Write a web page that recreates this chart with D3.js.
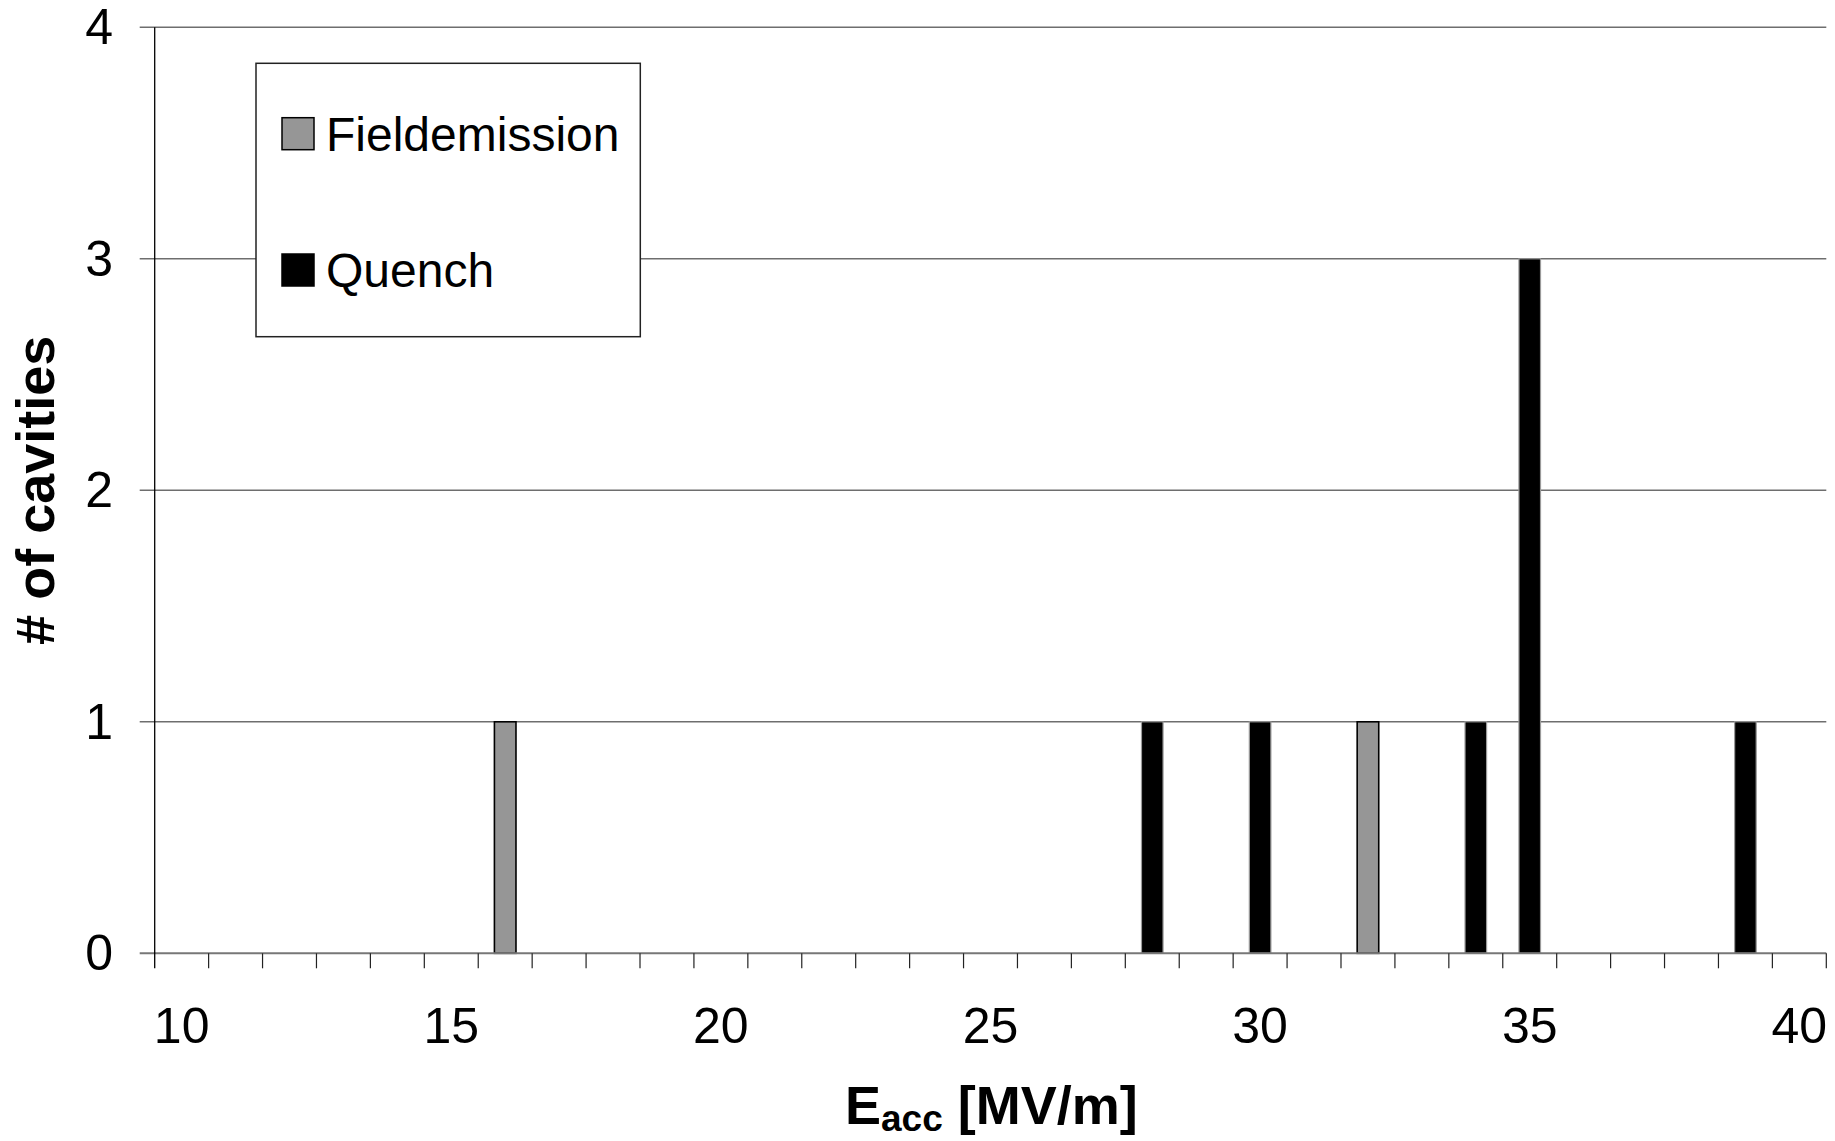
<!DOCTYPE html>
<html>
<head>
<meta charset="utf-8">
<script src="https://cdn.jsdelivr.net/npm/d3@7"></script>
<style>
  html, body { margin: 0; padding: 0; background: #fff; }
  svg { display: block; }
  text { font-family: "Liberation Sans", Arial, Helvetica, sans-serif; fill: #000; }
</style>
</head>
<body>
<svg id="chart" width="1835" height="1141"></svg>
<script>
// Accelerating field bins (MV/m), one column per integer value
const categories = d3.range(10, 41);
// Cavities limited by field emission, per field bin
const fieldEmission = [
  {e: 16, n: 1},
  {e: 32, n: 1}
];
// Cavities limited by quench, per field bin
const quench = [
  {e: 28, n: 1},
  {e: 30, n: 1},
  {e: 34, n: 1},
  {e: 35, n: 3},
  {e: 39, n: 1}
];
const xTickLabels = [10, 15, 20, 25, 30, 35, 40];
const yTickValues = [0, 1, 2, 3, 4];
const seriesNames = ["Fieldemission", "Quench"];

const svg = d3.select("#chart");
const plotLeft = 154.7, plotRight = 1826.3, plotTop = 27.3, plotBottom = 953.3;

const x = d3.scaleBand().domain(categories).range([plotLeft, plotRight]).padding(0);
const y = d3.scaleLinear().domain([0, 4]).range([plotBottom, plotTop]);
const barW = x.bandwidth() * 0.4;
const tickLen = 15;

// horizontal gridlines, extended left to form the y tick marks
svg.append("g").selectAll("line")
  .data(yTickValues.filter(v => v > 0))
  .join("line")
  .attr("x1", plotLeft - tickLen).attr("x2", plotRight)
  .attr("y1", d => y(d)).attr("y2", d => y(d))
  .attr("stroke", "#6e6e6e").attr("stroke-width", 1.6);

// y tick labels
svg.append("g").selectAll("text")
  .data(yTickValues)
  .join("text")
  .attr("x", 113).attr("y", d => y(d))
  .attr("text-anchor", "end").attr("dominant-baseline", "central")
  .attr("font-size", 50)
  .text(d => d);

// bars, stacked from the category baseline
const drawBars = (data, fill, stroke, sw) => {
  svg.append("g").selectAll("rect")
    .data(data)
    .join("rect")
    .attr("x", d => x(d.e) + (x.bandwidth() - barW) / 2)
    .attr("width", barW)
    .attr("y", d => y(d.n))
    .attr("height", d => y(0) - y(d.n))
    .attr("fill", fill)
    .attr("stroke", stroke)
    .attr("stroke-width", sw);
};
drawBars(fieldEmission, "#969696", "#000", 1.6);
drawBars(quench, "#000", "#9a9a9a", 1.2);

// x axis line and tick marks between categories
svg.append("line")
  .attr("x1", plotLeft - tickLen).attr("x2", plotRight)
  .attr("y1", plotBottom).attr("y2", plotBottom)
  .attr("stroke", "#777").attr("stroke-width", 2);
const boundaries = categories.map(c => x(c)).concat([plotRight]);
svg.append("g").selectAll("line")
  .data(boundaries.slice(1))
  .join("line")
  .attr("x1", d => d).attr("x2", d => d)
  .attr("y1", plotBottom).attr("y2", plotBottom + tickLen)
  .attr("stroke", "#222").attr("stroke-width", 1.2);

// y axis line
svg.append("line")
  .attr("x1", plotLeft).attr("x2", plotLeft)
  .attr("y1", plotTop).attr("y2", plotBottom + tickLen)
  .attr("stroke", "#000").attr("stroke-width", 1.3);

// x tick labels
svg.append("g").selectAll("text")
  .data(xTickLabels)
  .join("text")
  .attr("x", d => x(d) + x.bandwidth() / 2)
  .attr("y", 1042.7)
  .attr("text-anchor", "middle")
  .attr("font-size", 50)
  .text(d => d);

// axis titles
const xt = svg.append("text")
  .attr("x", 845).attr("y", 1124)
  .attr("font-size", 54).attr("font-weight", "bold");
xt.append("tspan").text("E");
xt.append("tspan").attr("font-size", 37).attr("dy", 7).text("acc");
xt.append("tspan").attr("dy", -7).text(" [MV/m]");

svg.append("text")
  .attr("transform", `translate(54, ${(plotTop + plotBottom) / 2}) rotate(-90)`)
  .attr("text-anchor", "middle")
  .attr("font-size", 54).attr("font-weight", "bold")
  .text("# of cavities");

// legend
const legend = svg.append("g");
legend.append("rect")
  .attr("x", 256).attr("y", 63.3).attr("width", 384.3).attr("height", 273.4)
  .attr("fill", "#fff").attr("stroke", "#222").attr("stroke-width", 1.5);
const legendRows = [
  {name: seriesNames[0], fill: "#969696", stroke: "#000", y: 117.7},
  {name: seriesNames[1], fill: "#000", stroke: "#000", y: 254}
];
const row = legend.selectAll("g.row").data(legendRows).join("g").attr("class", "row");
row.append("rect")
  .attr("x", 282).attr("y", d => d.y).attr("width", 32).attr("height", 32)
  .attr("fill", d => d.fill).attr("stroke", d => d.stroke).attr("stroke-width", 1.5);
row.append("text")
  .attr("x", 326).attr("y", d => d.y + 33)
  .attr("font-size", 48)
  .text(d => d.name);
</script>
</body>
</html>
